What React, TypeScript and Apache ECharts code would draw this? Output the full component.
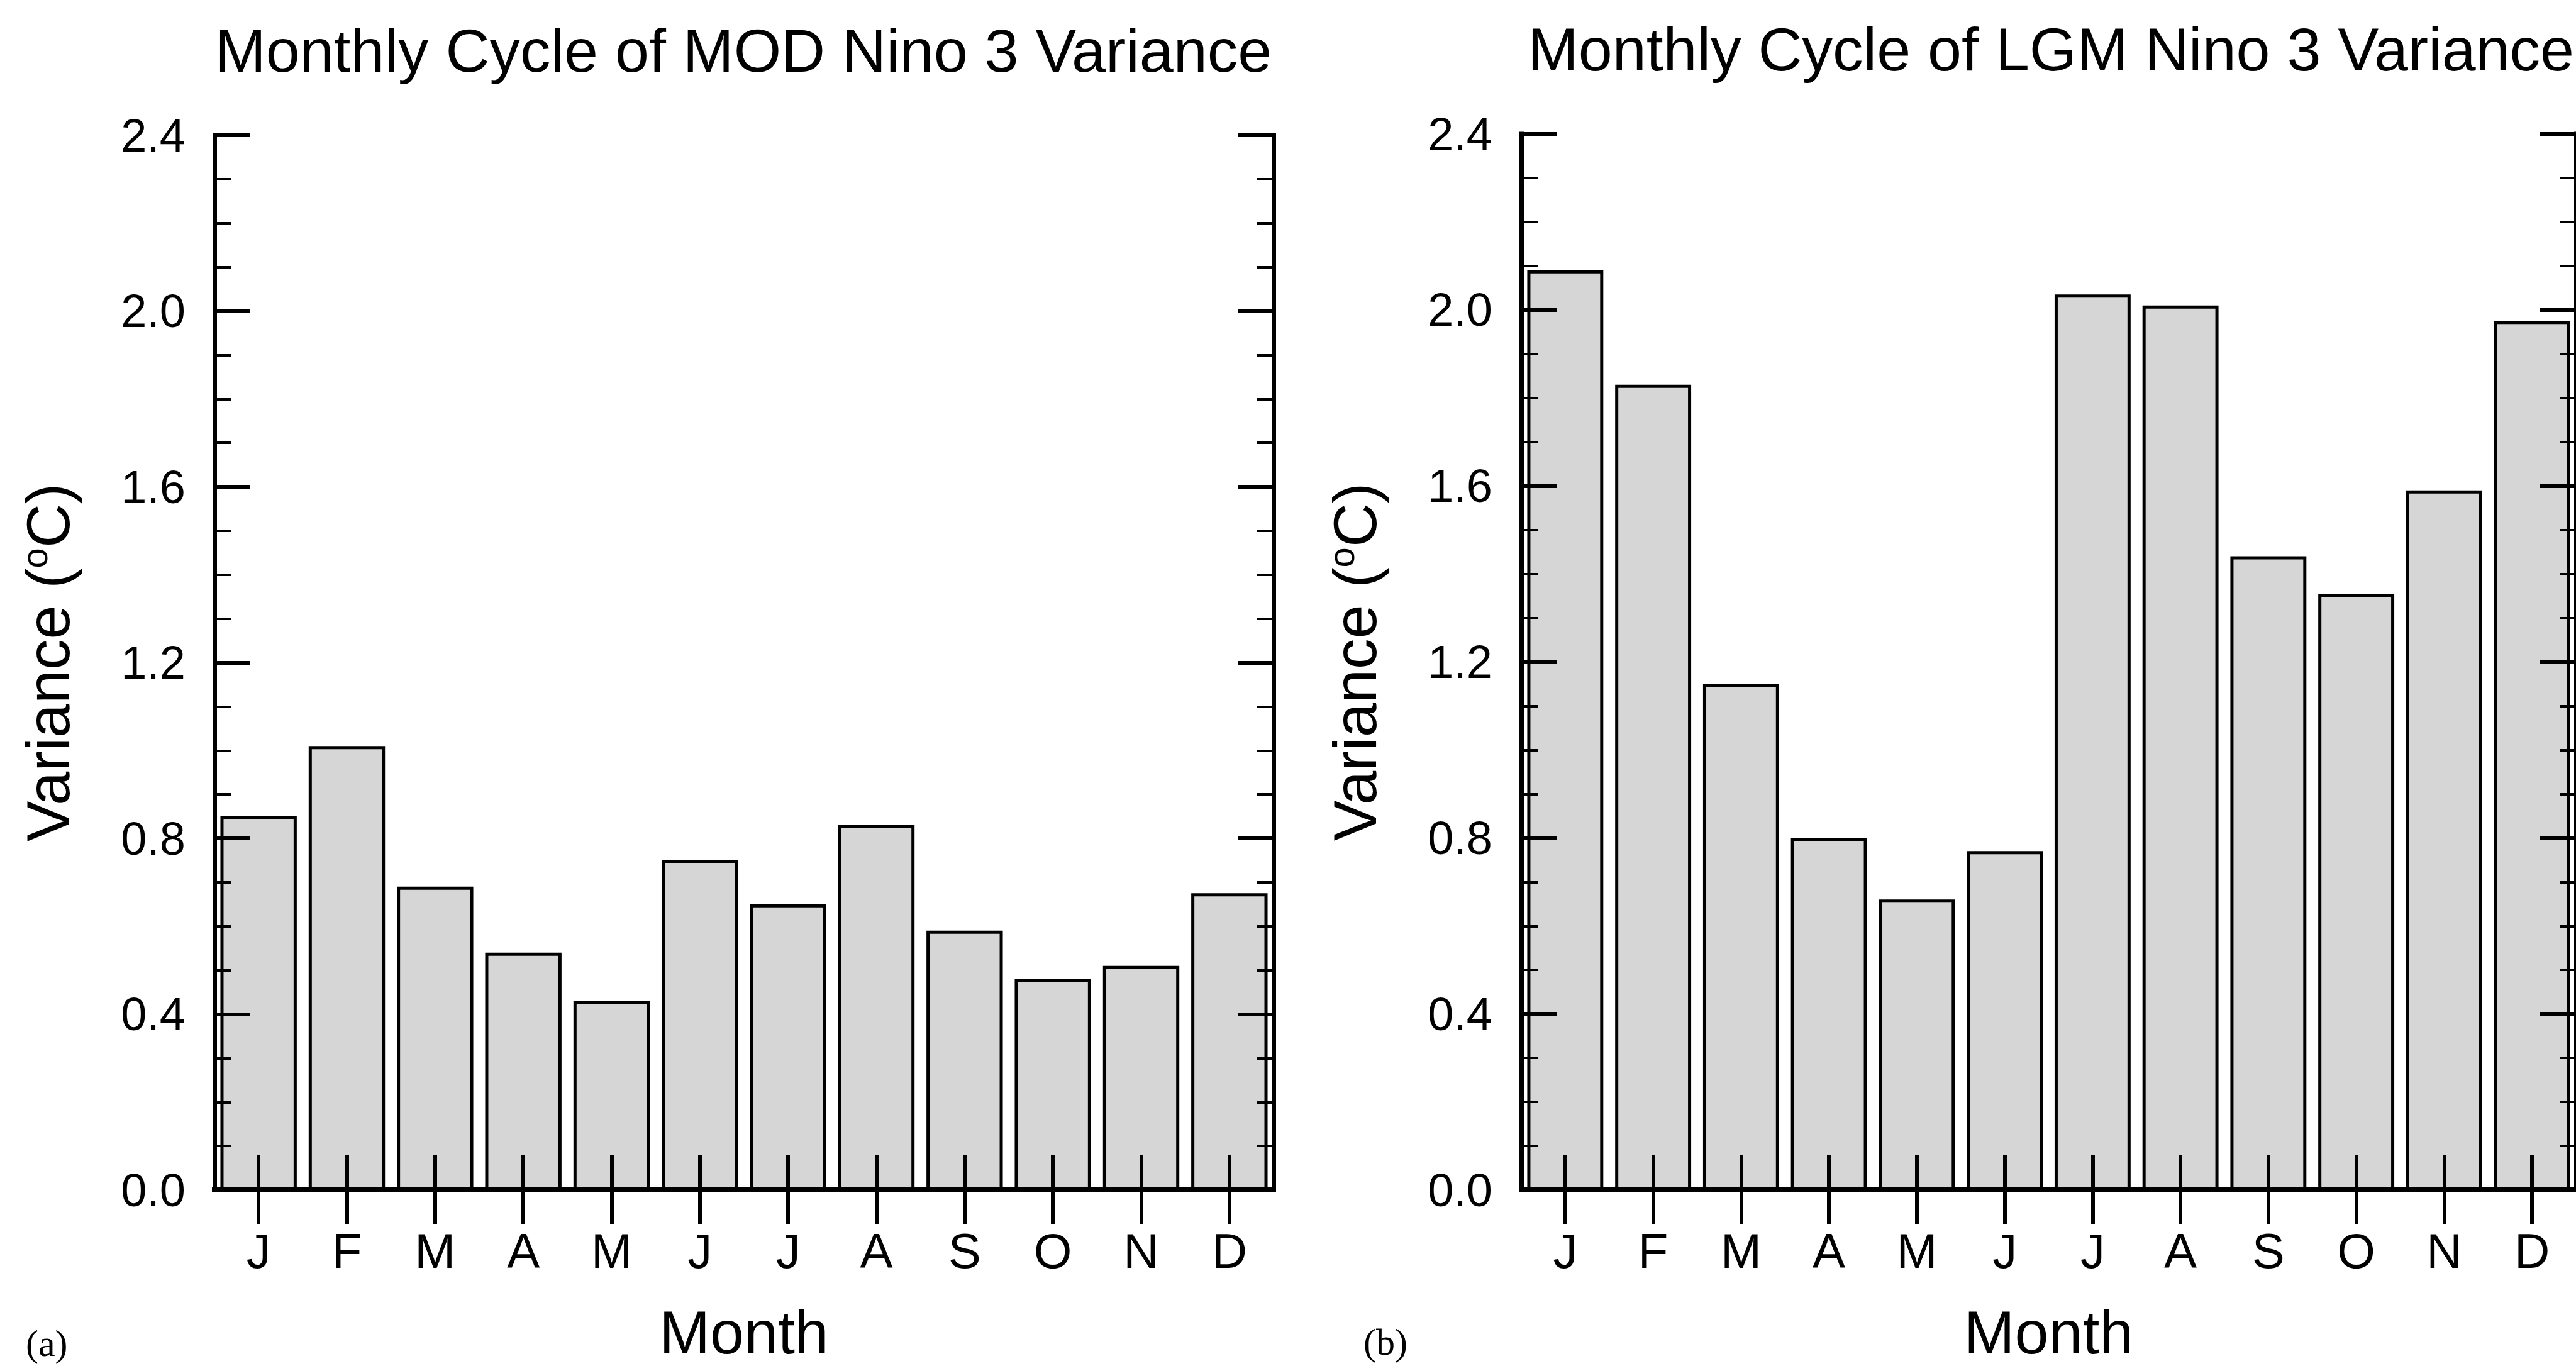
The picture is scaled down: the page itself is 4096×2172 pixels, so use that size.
import { useEffect, useRef } from "react";
import * as echarts from "echarts";

// Monthly Nino 3 SST variance, two model runs
const MONTHS = ["J", "F", "M", "A", "M", "J", "J", "A", "S", "O", "N", "D"];
const MOD_VARIANCE = [0.85, 1.01, 0.69, 0.54, 0.43, 0.75, 0.65, 0.83, 0.59, 0.48, 0.51, 0.675];
const LGM_VARIANCE = [2.09, 1.83, 1.15, 0.8, 0.66, 0.77, 2.035, 2.01, 1.44, 1.355, 1.59, 1.975];

const Y_MIN = 0;
const Y_MAX = 2.4;
const Y_STEP = 0.4;

const PANEL_TITLES = ["Monthly Cycle of MOD Nino 3 Variance", "Monthly Cycle of LGM Nino 3 Variance"];
const PANEL_TAGS = ["(a)", "(b)"];
const X_NAME = "Month";
const Y_NAME = "{t|Variance (}{s|o}{t|C)}";

const SANS = "'Liberation Sans', Arial, Helvetica, sans-serif";
const SERIF = "'Liberation Serif', 'Times New Roman', serif";
const INK = "#000000";

// design size; the layout is stretched to the actual viewport
const W = 4096;
const H = 2172;

// Frame placement of each panel (design pixels)
const PANELS = [
  { left: 341, top: 215, width: 1684, height: 1701, values: MOD_VARIANCE, titleX: 1182, titleY: 80, tagX: 41, tagY: 2136 },
  { left: 2419, top: 213, width: 1685, height: 1699, values: LGM_VARIANCE, titleX: 3261, titleY: 78, tagX: 2168, tagY: 2134 },
];

function buildOption(sx: number, sy: number): echarts.EChartsOption {
  const grid: any[] = [];
  const xAxis: any[] = [];
  const yAxis: any[] = [];
  const series: any[] = [];
  const graphic: any[] = [];
  const f = (n: number) => n * sx;

  PANELS.forEach((p, i) => {
    grid.push({
      left: p.left * sx,
      top: p.top * sy,
      width: p.width * sx,
      height: p.height * sy,
      containLabel: false,
    });

    const tick = (len: number, w: number) => ({
      show: true,
      inside: true,
      alignWithLabel: true,
      interval: 0,
      length: len * sy,
      lineStyle: { color: INK, width: w },
    });

    // bottom month axis
    xAxis.push({
      type: "category",
      gridIndex: i,
      position: "bottom",
      data: MONTHS,
      boundaryGap: true,
      z: 5,
      axisLine: { show: true, lineStyle: { color: INK, width: 8, cap: "square" } },
      axisTick: tick(55, 6),
      axisLabel: { show: true, interval: 0, margin: 58 * sy, fontSize: f(78), fontFamily: SANS, color: INK },
      splitLine: { show: false },
      name: X_NAME,
      nameLocation: "middle",
      nameGap: 178 * sy,
      nameTextStyle: { fontSize: f(97), fontFamily: SANS, color: INK },
    });
    // top frame with mirrored ticks
    xAxis.push({
      type: "category",
      gridIndex: i,
      position: "top",
      data: MONTHS,
      boundaryGap: true,
      z: 5,
      axisLine: { show: true, lineStyle: { color: INK, width: 7, cap: "square" } },
      axisTick: tick(55, 6),
      axisLabel: { show: false },
      splitLine: { show: false },
    });

    const valueAxis = (pos: "left" | "right") => ({
      type: "value",
      gridIndex: i,
      position: pos,
      min: Y_MIN,
      max: Y_MAX,
      interval: Y_STEP,
      z: 5,
      axisLine: { show: true, lineStyle: { color: INK, width: 7, cap: "square" } },
      axisTick: { show: true, inside: true, length: 57 * sx, lineStyle: { color: INK, width: 6 } },
      minorTick: { show: true, splitNumber: 4, length: 26 * sx, lineStyle: { color: INK, width: 4 } },
      splitLine: { show: false },
      minorSplitLine: { show: false },
    });

    yAxis.push({
      ...valueAxis("left"),
      axisLabel: {
        show: true,
        margin: 46 * sx,
        fontSize: f(74),
        fontFamily: SANS,
        color: INK,
        formatter: (v: number) => v.toFixed(1),
      },
      name: Y_NAME,
      nameLocation: "middle",
      nameRotate: 90,
      nameGap: 214 * sx,
      nameTextStyle: {
        fontSize: f(97),
        fontFamily: SANS,
        color: INK,
        rich: {
          t: { fontSize: f(97), fontFamily: SANS, color: INK, lineHeight: f(102) },
          s: { fontSize: f(58), fontFamily: SANS, color: INK, lineHeight: f(32), verticalAlign: "top" },
        },
      },
    });
    yAxis.push({ ...valueAxis("right"), axisLabel: { show: false } });

    series.push({
      type: "bar",
      xAxisIndex: 2 * i,
      yAxisIndex: 2 * i,
      data: p.values,
      barCategoryGap: "13.5%",
      z: 2,
      silent: true,
      itemStyle: { color: "#d6d6d6", borderColor: INK, borderWidth: 5 },
      emphasis: { disabled: true },
    });

    graphic.push({
      type: "text",
      x: p.titleX * sx,
      y: p.titleY * sy,
      style: {
        text: PANEL_TITLES[i],
        fontSize: f(97),
        fontFamily: SANS,
        fill: INK,
        align: "center",
        verticalAlign: "middle",
      },
    });
    // panel letter in the lower-left corner of each half
    graphic.push({
      type: "text",
      x: p.tagX * sx,
      y: p.tagY * sy,
      style: {
        text: PANEL_TAGS[i],
        fontSize: f(60),
        fontFamily: SERIF,
        fill: INK,
        align: "left",
        verticalAlign: "middle",
      },
    });
  });

  return {
    animation: false,
    backgroundColor: "#ffffff",
    grid,
    xAxis,
    yAxis,
    series,
    graphic,
  };
}

export default function App() {
  const ref = useRef<HTMLDivElement>(null);

  useEffect(() => {
    // the page holds only this chart: no margin, no scrollbars
    const htmlStyle = document.documentElement.style;
    const bodyStyle = document.body.style;
    const prev = [htmlStyle.overflow, bodyStyle.margin, bodyStyle.overflow];
    htmlStyle.overflow = "hidden";
    bodyStyle.margin = "0";
    bodyStyle.overflow = "hidden";

    const el = ref.current;
    if (!el) return;
    const vw = window.innerWidth || W;
    const vh = window.innerHeight || H;
    const chart = echarts.init(el, null, { renderer: "svg", width: vw, height: vh });
    chart.setOption(buildOption(vw / W, vh / H));
    return () => {
      chart.dispose();
      htmlStyle.overflow = prev[0];
      bodyStyle.margin = prev[1];
      bodyStyle.overflow = prev[2];
    };
  }, []);

  return (
    <div
      ref={ref}
      style={{ position: "fixed", left: 0, top: 0, width: "100vw", height: "100vh", overflow: "hidden", background: "#ffffff" }}
    />
  );
}
